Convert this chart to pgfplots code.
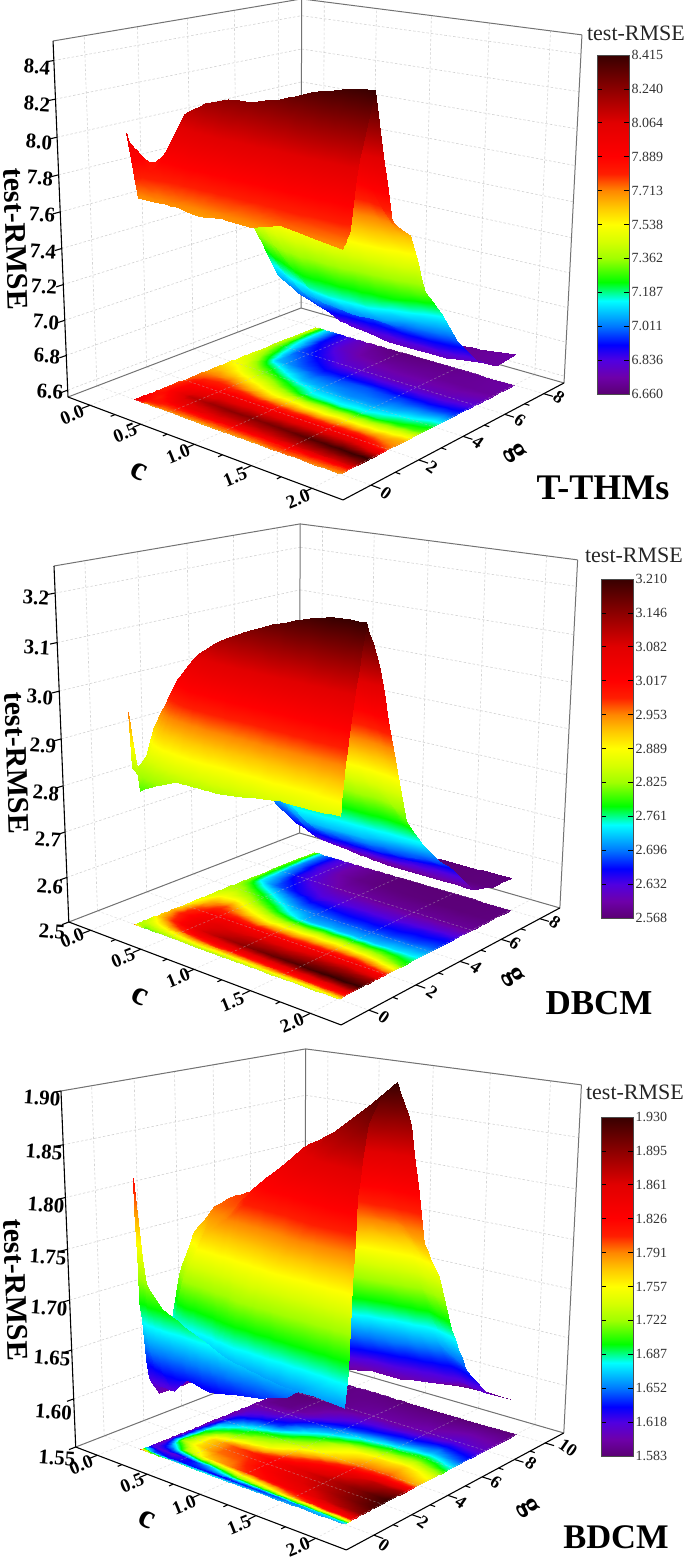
\documentclass[border=0pt]{standalone}
\usepackage{fontspec}
\setmainfont{Liberation Serif}
\usepackage{pgfplots}
\usepackage{pgfplotstable}
\usepgfplotslibrary{patchplots}
\pgfplotsset{compat=1.18}
\pgfplotsset{colormap={rb}{rgb255(0cm)=(90,0,115); rgb255(1cm)=(110,0,170); rgb255(2cm)=(80,0,225); rgb255(2.9cm)=(0,0,255); rgb255(4cm)=(0,120,255); rgb255(5.5cm)=(0,255,255); rgb255(6.6cm)=(0,255,0); rgb255(8cm)=(160,255,0); rgb255(9cm)=(215,255,0); rgb255(10cm)=(255,255,0); rgb255(11cm)=(255,200,0); rgb255(12cm)=(255,135,0); rgb255(13cm)=(255,30,0); rgb255(14cm)=(255,0,0); rgb255(16cm)=(225,0,0); rgb255(18cm)=(140,0,0); rgb255(20cm)=(55,0,0)}}
\newcommand\R[6]{.15 #1 #2\noexpand\\ .25 #1 #3\noexpand\\ .4 #1 #4\noexpand\\ .6 #1 #5\noexpand\\ .8 #1 #6\noexpand\\ \RR{#1}}
\newcommand\RR[6]{1 #1 #2\noexpand\\ 1.25 #1 #3\noexpand\\ 1.5 #1 #4\noexpand\\ 1.75 #1 #5\noexpand\\ 2 #1 #6\noexpand\\ }
\def\readit#1#2{\edef\tmpdata{c g z\noexpand\\ #1}\def\doread{\pgfplotstableread[row sep=\\]}\expandafter\doread\expandafter{\tmpdata}#2}
\readit{%
\R{8}{7.45}{7.12}{6.90}{6.78}{6.70}{6.67}{6.68}{6.70}{6.72}{6.74}
\R{7}{7.42}{7.15}{6.92}{6.80}{6.74}{6.72}{6.72}{6.72}{6.72}{6.73}
\R{6}{7.42}{7.22}{6.98}{6.90}{6.82}{6.80}{6.78}{6.78}{6.78}{6.82}
\R{5}{7.47}{7.35}{7.08}{7.00}{6.96}{6.97}{6.98}{6.96}{6.96}{6.98}
\R{4.25}{7.52}{7.47}{7.32}{7.18}{7.08}{7.05}{7.03}{7.04}{7.10}{7.17}
\R{3.5}{7.62}{7.60}{7.52}{7.43}{7.30}{7.18}{7.16}{7.17}{7.24}{7.32}
\R{2.75}{7.72}{7.74}{7.76}{7.68}{7.60}{7.57}{7.55}{7.56}{7.58}{7.65}
\R{2}{7.76}{7.88}{7.90}{7.95}{7.95}{7.93}{7.95}{7.95}{7.95}{7.74}
\R{1.2}{7.79}{7.93}{8.12}{8.20}{8.24}{8.25}{8.29}{8.35}{8.39}{8.415}
\R{.6}{7.88}{7.82}{7.96}{8.02}{8.05}{8.05}{8.07}{8.10}{8.10}{8.10}
\R{.3}{7.94}{7.85}{7.80}{7.80}{7.80}{7.80}{7.80}{7.82}{7.80}{7.78}
\R{.1}{7.98}{7.78}{7.74}{7.73}{7.72}{7.73}{7.73}{7.76}{7.74}{7.72}
\R{0}{8.03}{7.70}{7.70}{7.70}{7.68}{7.70}{7.69}{7.74}{7.72}{7.70}
}\TA
\readit{%
\R{8}{2.82}{2.70}{2.64}{2.60}{2.58}{2.57}{2.57}{2.57}{2.572}{2.573}
\R{7}{2.81}{2.70}{2.64}{2.60}{2.58}{2.575}{2.573}{2.572}{2.572}{2.575}
\R{6}{2.81}{2.72}{2.65}{2.62}{2.60}{2.595}{2.59}{2.59}{2.59}{2.59}
\R{5}{2.82}{2.74}{2.69}{2.66}{2.64}{2.64}{2.64}{2.64}{2.65}{2.655}
\R{4.25}{2.83}{2.82}{2.78}{2.73}{2.69}{2.68}{2.675}{2.675}{2.68}{2.69}
\R{3.5}{2.85}{2.87}{2.86}{2.81}{2.76}{2.72}{2.72}{2.72}{2.73}{2.74}
\R{2.75}{2.87}{2.93}{2.97}{2.92}{2.88}{2.87}{2.88}{2.88}{2.86}{2.80}
\R{2}{2.90}{2.97}{3.02}{3.04}{3.03}{3.03}{3.03}{3.04}{3.04}{2.99}
\R{1.5}{2.93}{2.99}{3.04}{3.08}{3.09}{3.10}{3.10}{3.12}{3.13}{3.125}
\R{.95}{2.91}{2.96}{3.03}{3.09}{3.125}{3.15}{3.175}{3.195}{3.21}{3.21}
\R{.6}{2.85}{2.90}{2.96}{3.02}{3.05}{3.06}{3.07}{3.08}{3.09}{3.10}
\R{.3}{2.84}{2.85}{2.88}{2.92}{2.94}{2.95}{2.96}{2.98}{2.99}{3.00}
\R{.1}{2.84}{2.82}{2.84}{2.86}{2.87}{2.87}{2.88}{2.89}{2.89}{2.92}
\R{0}{2.96}{2.80}{2.82}{2.84}{2.84}{2.84}{2.85}{2.86}{2.86}{2.862}
}\TB
\readit{%
\R{10}{1.59}{1.588}{1.588}{1.59}{1.588}{1.585}{1.585}{1.585}{1.585}{1.585}
\R{7.9}{1.59}{1.585}{1.585}{1.59}{1.595}{1.60}{1.60}{1.605}{1.615}{1.61}
\R{6.6}{1.595}{1.59}{1.59}{1.60}{1.62}{1.635}{1.645}{1.655}{1.665}{1.645}
\R{5.7}{1.60}{1.605}{1.61}{1.625}{1.65}{1.67}{1.695}{1.71}{1.72}{1.69}
\R{4.9}{1.60}{1.62}{1.635}{1.645}{1.68}{1.71}{1.75}{1.765}{1.77}{1.745}
\R{4}{1.60}{1.65}{1.675}{1.70}{1.72}{1.745}{1.77}{1.795}{1.80}{1.78}
\R{3.2}{1.60}{1.68}{1.71}{1.735}{1.75}{1.785}{1.82}{1.85}{1.875}{1.89}
\R{2.4}{1.60}{1.70}{1.77}{1.80}{1.81}{1.83}{1.86}{1.878}{1.90}{1.93}
\R{1.6}{1.60}{1.72}{1.765}{1.795}{1.80}{1.825}{1.85}{1.87}{1.895}{1.92}
\R{1}{1.60}{1.65}{1.72}{1.77}{1.79}{1.81}{1.83}{1.85}{1.875}{1.90}
\R{.5}{1.62}{1.615}{1.615}{1.64}{1.68}{1.72}{1.75}{1.79}{1.82}{1.84}
\R{.15}{1.70}{1.65}{1.63}{1.635}{1.63}{1.635}{1.64}{1.65}{1.67}{1.69}
\R{0}{1.82}{1.72}{1.70}{1.69}{1.68}{1.67}{1.665}{1.66}{1.66}{1.658}
}\TC
\newcommand\seg[7][]{\draw[#1] (axis cs:{PX(#2,#3,#4)},{-PY(#2,#3,#4)})--(axis cs:{PX(#5,#6,#7)},{-PY(#5,#6,#7)});}
\tikzset{gl/.style={draw=gray!35,dash pattern=on 2.5pt off 2pt,line width=.6pt},
 gf/.style={draw=gray!50,opacity=.45,dash pattern=on 2.5pt off 2pt,line width=.6pt},
 fr/.style={draw=black!55,line width=1pt}, ax/.style={draw=black,line width=1.1pt}}
\newcommand\walls[2]{%
 \pgfplotsinvokeforeach{#1}{\seg[gl]{0}{0}{##1}{0}{1}{##1}\seg[gl]{0}{1}{##1}{1}{1}{##1}}
 \pgfplotsinvokeforeach{#2}{\seg[gl]{0}{##1}{0}{0}{##1}{1}}
 \pgfplotsinvokeforeach{.0914,.2937,.4960,.6982,.9005}{\seg[gl]{##1}{1}{0}{##1}{1}{1}}
 \seg[fr]{0}{0}{1}{0}{1}{1}\seg[fr]{0}{1}{1}{1}{1}{1}\seg[fr]{0}{1}{0}{0}{1}{1}\seg[fr]{1}{1}{0}{1}{1}{1}
 \seg[fr]{0}{0}{0}{0}{1}{0}\seg[fr]{0}{1}{0}{1}{1}{0}
}
\newcommand\floorgrid[3]{%
 \pgfplotsinvokeforeach{#2}{\seg[gf]{0}{##1}{0}{1}{##1}{0}\seg[ax]{1}{##1}{0}{1.03}{##1}{0}}
 \pgfplotsinvokeforeach{#3}{\seg[ax]{1}{##1}{0}{1.016}{##1}{0}}
 \pgfplotsinvokeforeach{.0914,.2937,.4960,.6982,.9005}{\seg[gf]{##1}{0}{0}{##1}{1}{0}\seg[ax]{##1}{0}{0}{##1}{-.03}{0}}
 \pgfplotsinvokeforeach{.1926,.3949,.5971,.7994}{\seg[ax]{##1}{0}{0}{##1}{-.016}{0}}
 \pgfplotsinvokeforeach{#1}{\seg[ax]{0}{0}{##1}{0}{-.025}{##1}}
 \seg[ax]{0}{0}{0}{1}{0}{0}\seg[ax]{1}{0}{0}{1}{1}{0}\seg[ax]{0}{0}{0}{0}{0}{1}
}
\pgfplotsset{panel/.style n args={3}{at={(#1pt,-#2pt)},anchor=north west,scale only axis,width=#3pt,height=520pt,xmin=0,xmax=685,ymin=-520,ymax=0,hide axis,clip=false,colormap name=rb},
 surfp/.style={surf,shader=interp,patch type=rectangle,patch refines=2,mesh/rows=#1,mesh/cols=10,point meta=\thisrow{z}}}
\newcommand\cbstep[3]{\fpeval{#1+(#2-#1)*#3/10}}
\newcommand\cbar[5]{\begin{axis}[at={(#1pt,-#2pt)},anchor=north west,scale only axis,width=32pt,height=339pt,xmin=0,xmax=2,ymin=#3,ymax=#4,xtick=\empty,ytick={#3,\cbstep{#3}{#4}{1},\cbstep{#3}{#4}{2},\cbstep{#3}{#4}{3},\cbstep{#3}{#4}{4},\cbstep{#3}{#4}{5},\cbstep{#3}{#4}{6},\cbstep{#3}{#4}{7},\cbstep{#3}{#4}{8},\cbstep{#3}{#4}{9},#4},yticklabels={#5},ytick pos=both,yticklabel pos=right,tick align=inside,major tick length=5pt,tick style={black,line width=.8pt},axis line style={draw=black!70,line width=.9pt},yticklabel style={font=\fontsize{14}{14}\selectfont,text=black!80,xshift=-1pt},axis on top,colormap name=rb,point meta min=#3,point meta max=#4]
\addplot[surf,shader=interp,mesh/rows=2,mesh/cols=3,point meta=y] coordinates {(0,#3)(1,#3)(2,#3)(0,#4)(1,#4)(2,#4)};
\end{axis}}
\newcommand\tl[5]{\node[rotate=#4,font=\fontsize{#5}{#5}\selectfont\bfseries,inner sep=0pt] at (#1pt,-#2pt) {#3};}
\newcommand\tn[3]{\node[font=\fontsize{22}{22}\selectfont,inner sep=0pt,text=black!85] at (#1pt,-#2pt) {#3};}
\begin{document}
\begin{tikzpicture}[declare function={den(\u,\v,\w)=1-.1365*\u+.1604*\v-.063*\w;
 PX(\u,\v,\w)=(228.2*\u+281.3*\v-18.3*\w+68)/den(\u,\v,\w);
 PY(\u,\v,\w)=(34.7*\u-39.6*\v-358.6*\w+397)/den(\u,\v,\w);}]
\useasboundingbox (0,0) rectangle (685pt,-1559pt);
\begin{axis}[panel={0}{0}{685},point meta min=6.66,point meta max=8.415]
\walls{.0206,.1237,.2268,.3299,.433,.5361,.6392,.7423,.8454,.9485}{.109,.305,.501,.697,.893}
\addplot[surfp=13] table[x expr={PX((\thisrow{c}+.226)/2.472,.109+.098*\thisrow{g},0)},y expr={-PY((\thisrow{c}+.226)/2.472,.109+.098*\thisrow{g},0)}] \TA;
\floorgrid{.0206,.1237,.2268,.3299,.433,.5361,.6392,.7423,.8454,.9485}{.109,.305,.501,.697,.893}{.207,.403,.599,.795}
\addplot[surfp=13] table[x expr={PX((\thisrow{c}+.226)/2.472,.109+.098*\thisrow{g},(\thisrow{z}-6.56)/1.94)},y expr={-PY((\thisrow{c}+.226)/2.472,.109+.098*\thisrow{g},(\thisrow{z}-6.56)/1.94)}] \TA;
\end{axis}
\cbar{597}{55}{6.66}{8.415}{6.660,6.836,7.011,7.187,7.362,7.538,7.713,7.889,8.064,8.240,8.415}
\begin{axis}[panel={1.5}{525}{678.15},point meta min=2.568,point meta max=3.21]
\walls{0,.1326,.2653,.3979,.5305,.6631,.7958,.9284}{.109,.305,.501,.697,.893}
\addplot[surfp=14] table[x expr={PX((\thisrow{c}+.226)/2.472,.109+.098*\thisrow{g},0)},y expr={-PY((\thisrow{c}+.226)/2.472,.109+.098*\thisrow{g},0)}] \TB;
\floorgrid{0,.1326,.2653,.3979,.5305,.6631,.7958,.9284}{.109,.305,.501,.697,.893}{.207,.403,.599,.795}
\addplot[surfp=14] table[x expr={PX((\thisrow{c}+.226)/2.472,.109+.098*\thisrow{g},(\thisrow{z}-2.5)/.754)},y expr={-PY((\thisrow{c}+.226)/2.472,.109+.098*\thisrow{g},(\thisrow{z}-2.5)/.754)}] \TB;
\end{axis}
\cbar{601}{579}{2.568}{3.21}{2.568,2.632,2.696,2.761,2.825,2.889,2.953,3.017,3.082,3.146,3.210}
\begin{axis}[panel={8.8}{1050}{674.04},point meta min=1.583,point meta max=1.93]
\walls{0,.1429,.2857,.4286,.5714,.7143,.8571,1}{.109,.267,.425,.584,.742,.9}
\addplot[surfp=13] table[x expr={PX((\thisrow{c}+.226)/2.472,.109+.0791*\thisrow{g},0)},y expr={-PY((\thisrow{c}+.226)/2.472,.109+.0791*\thisrow{g},0)}] \TC;
\floorgrid{0,.1429,.2857,.4286,.5714,.7143,.8571,1}{.109,.267,.425,.584,.742,.9}{.188,.346,.505,.663,.821}
\addplot[surfp=13] table[x expr={PX((\thisrow{c}+.226)/2.472,.109+.0791*\thisrow{g},(\thisrow{z}-1.55)/.35)},y expr={-PY((\thisrow{c}+.226)/2.472,.109+.0791*\thisrow{g},(\thisrow{z}-1.55)/.35)}] \TC;
\end{axis}
\cbar{601}{1117}{1.583}{1.93}{1.583,1.618,1.652,1.687,1.722,1.757,1.791,1.826,1.861,1.895,1.930}
\tl{37}{67}{8.4}{-4}{21}\tl{37}{104}{8.2}{-4}{21}\tl{39}{142}{8.0}{-4}{21}\tl{40}{178}{7.8}{-4}{21}\tl{42}{215}{7.6}{-4}{21}\tl{43}{252}{7.4}{-4}{21}\tl{44}{287}{7.2}{-4}{21}\tl{46}{322}{7.0}{-4}{21}\tl{47}{356}{6.8}{-4}{21}\tl{50}{392}{6.6}{-4}{21}
\tl{72}{415}{0.0}{22}{19}\tl{125}{433}{0.5}{22}{19}\tl{178}{454}{1.0}{22}{19}\tl{235}{477}{1.5}{22}{19}\tl{298}{499}{2.0}{22}{19}
\tl{386}{493}{0}{-35}{18}\tl{432}{467}{2}{-35}{18}\tl{478}{442}{4}{-35}{18}\tl{520}{420}{6}{-35}{18}\tl{559}{397}{8}{-35}{18}
\tl{16}{239}{test-RMSE}{-88}{30}\tl{139}{472}{c}{-25}{34}\tl{515}{453}{g}{-60}{30}\tl{603}{488}{T-THMs}{0}{36}\tn{636}{33}{test-RMSE}
\tl{36}{598}{3.2}{-4}{21}\tl{37}{648}{3.1}{-4}{21}\tl{40}{697}{3.0}{-4}{21}\tl{43}{746}{2.9}{-4}{21}\tl{46}{793}{2.8}{-4}{21}\tl{48}{840}{2.7}{-4}{21}\tl{50}{887}{2.6}{-4}{21}\tl{52}{932}{2.5}{-4}{21}
\tl{72}{938}{0.0}{22}{19}\tl{123}{958}{0.5}{22}{19}\tl{178}{978}{1.0}{22}{19}\tl{232}{1002}{1.5}{22}{19}\tl{292}{1023}{2.0}{22}{19}
\tl{384}{1017}{0}{-35}{18}\tl{432}{992}{2}{-35}{18}\tl{476}{967}{4}{-35}{18}\tl{515}{943}{6}{-35}{18}\tl{555}{922}{8}{-35}{18}
\tl{17}{763}{test-RMSE}{-88}{30}\tl{140}{997}{c}{-25}{34}\tl{513}{977}{g}{-60}{30}\tl{599}{1003}{DBCM}{0}{35}\tn{634}{555}{test-RMSE}
\tl{42}{1098}{1.90}{-4}{21}\tl{44}{1152}{1.85}{-4}{21}\tl{46}{1205}{1.80}{-4}{21}\tl{48}{1257}{1.75}{-4}{21}\tl{49}{1308}{1.70}{-4}{21}\tl{52}{1358}{1.65}{-4}{21}\tl{53.5}{1412}{1.60}{-4}{21}\tl{57}{1458}{1.55}{-4}{21}
\tl{81}{1465}{0.0}{22}{19}\tl{132}{1483}{0.5}{22}{19}\tl{184}{1505}{1.0}{22}{19}\tl{239}{1525}{1.5}{22}{19}\tl{298}{1547}{2.0}{22}{19}
\tl{384}{1545}{0}{-35}{18}\tl{423}{1522}{2}{-35}{18}\tl{461}{1502}{4}{-35}{18}\tl{496}{1482}{6}{-35}{18}\tl{531}{1463}{8}{-35}{18}\tl{568}{1448}{10}{-35}{18}
\tl{16}{1290}{test-RMSE}{-88}{30}\tl{147}{1520}{c}{-25}{34}\tl{528}{1508}{g}{-60}{30}\tl{616}{1537}{BDCM}{0}{34.5}\tn{635}{1092}{test-RMSE}
\end{tikzpicture}
\end{document}
